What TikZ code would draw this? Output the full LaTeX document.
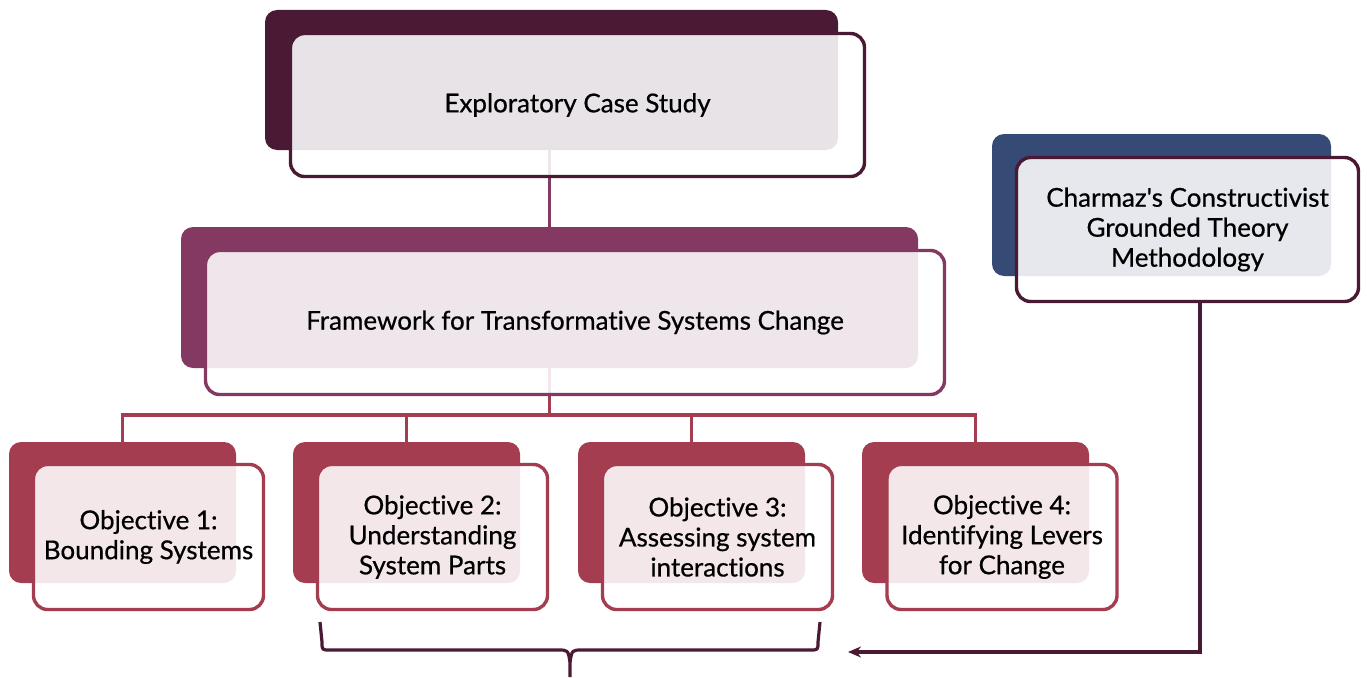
\documentclass[tikz,border=0pt]{standalone}
\usepackage{fontspec}
\setmainfont{Lato}[Ligatures={TeXOff,NoCommon}, FakeBold=0.6]
\usetikzlibrary{arrows.meta}
\definecolor{plum}{HTML}{4A1A35}
\definecolor{mauve}{HTML}{833962}
\definecolor{rose}{HTML}{A33D4F}
\definecolor{navy}{HTML}{354A75}
\pgfdeclarelayer{bg}
\pgfsetlayers{bg,main}
\tikzset{
  backbox/.style={rectangle, rounded corners=12pt, inner sep=0pt},
  frontbox/.style={rectangle, rounded corners=14pt, draw, line width=3.4pt,
    fill=white, fill opacity=0.88, text opacity=1, text=black,
    align=center, inner sep=0pt, font=\fontsize{26}{30}\selectfont},
  link/.style={line width=3.2pt},
}
\begin{document}
\begin{tikzpicture}[x=1pt,y=-1pt]
\useasboundingbox (0,0) rectangle (1367,677);

% top level
\node[backbox, fill=plum, minimum width=573pt, minimum height=140pt] (topB) at (551.5,80) {};
\node[frontbox, draw=plum, minimum width=574pt, minimum height=143pt] (topF) at (577.5,105) {Exploratory Case Study};

% framework
\node[backbox, fill=mauve, minimum width=737pt, minimum height=141pt] (fwB) at (549.5,297.5) {};
\node[frontbox, draw=mauve, minimum width=739pt, minimum height=144pt] (fwF) at (575,322.5) {Framework for Transformative Systems Change};

% methodology
\node[backbox, fill=navy, minimum width=339pt, minimum height=142pt] (chB) at (1161.5,205) {};
\node[frontbox, draw=plum, minimum width=342pt, minimum height=144pt] (chF) at (1187.5,229.5) {Charmaz's Constructivist\\Grounded Theory\\Methodology};

% objectives
\foreach \i/\bx/\fx/\txt in {
  1/122.5/148.5/{Objective 1:\\Bounding Systems},
  2/406.5/432.5/{Objective 2:\\Understanding\\System Parts},
  3/691.5/717.5/{Objective 3:\\Assessing system\\interactions},
  4/975.5/1002/{Objective 4:\\Identifying Levers\\for Change}}{
  \node[backbox, fill=rose, minimum width=227pt, minimum height=141pt] (o\i B) at (\bx,512.5) {};
  \node[frontbox, draw=rose, minimum width=230pt, minimum height=145pt] (o\i F) at (\fx,537) {\txt};
}

% connectors behind the boxes
\coordinate (busY) at (0,415);
\begin{pgfonlayer}{bg}
  \fill[white] (0,0) rectangle (1367,677);
  \draw[mauve, link] (fwB.north |- topB.south) -- (fwB.north);
  \foreach \i in {1,2,3,4}
    \draw[rose, link] (fwB.south) -- (fwB.south |- busY) -| (o\i B.north);
\end{pgfonlayer}

% methodology feeding into objectives 2 and 3
\coordinate (arrowTip) at (848,652);
\draw[plum, link, -{Stealth[length=13pt,width=11pt]}] ([xshift=12.5pt]chF.south) |- (arrowTip);

% brace grouping objectives 2 and 3
\coordinate (brL) at (320,622);
\coordinate (brR) at (820,622);
\coordinate (brTip) at (570,677);
\draw[plum, link, line join=round]
  (brL) -- (322,642) .. controls (322,650) .. (330,650) -- (558,650)
  .. controls (568,650) .. (570,662) -- (brTip);
\draw[plum, link, line join=round]
  (brR) -- (818,642) .. controls (818,650) .. (810,650) -- (582,650)
  .. controls (572,650) .. (570,662);
\end{tikzpicture}
\end{document}
